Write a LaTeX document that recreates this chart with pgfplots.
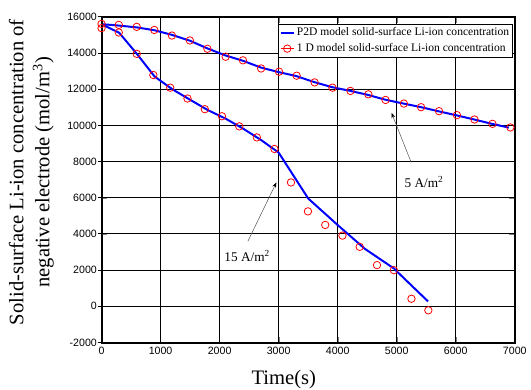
\documentclass[border=0pt]{standalone}
\usepackage{fontspec}
\setmainfont{Liberation Serif}
\newfontfamily\arialfont{Liberation Sans}
\usepackage{pgfplots}
\pgfplotsset{compat=1.18}
\usetikzlibrary{arrows.meta,calc}
\newcommand{\tkl}[1]{{\arialfont\fontsize{8}{9}\selectfont #1}}

\pgfplotstableread{
x y
0 15615
292 15560
596 15450
894 15280
1192 14970
1496 14700
1793 14240
2102 13800
2395 13600
2703 13150
3007 12970
3305 12750
3609 12380
3912 12090
4216 11910
4519 11720
4811 11410
5121 11210
5413 11010
5717 10790
6020 10570
6318 10330
6622 10090
6926 9890
}\circA

\pgfplotstableread{
x y
0 15380
292 15140
596 13960
877 12790
1163 12090
1456 11490
1749 10900
2040 10510
2333 9950
2631 9340
2929 8700
3209 6850
3496 5250
3789 4500
4081 3910
4373 3290
4666 2280
4952 2000
5250 420
5536 -220
}\circB

\pgfplotstableread{
x y
0 15600
300 15520
600 15420
900 15260
1200 15000
1500 14680
1800 14250
2100 13870
2400 13570
2700 13200
3000 12950
3300 12730
3600 12400
3900 12120
4200 11920
4500 11700
4800 11430
5100 11220
5400 11020
5700 10790
6000 10570
6300 10340
6600 10100
6900 9880
}\lineA

\pgfplotstableread{
x y
0 15600
300 15120
600 13950
900 12700
1200 12000
1500 11420
1800 10850
2100 10380
2400 9820
2700 9200
3000 8500
3500 5965
4013 4457
4463 3174
4950 2100
5250 1153
5531 272
}\lineB

\begin{document}
\setbox0\hbox{\tkl{0123456789-}}%
\begin{tikzpicture}
\begin{axis}[scale only axis, width=311.25pt, height=245.25pt,
  xmin=0, xmax=7000, ymin=-2000, ymax=16000,
  xtick={0,1000,...,7000}, ytick={-2000,0,...,16000},
  xticklabels={\tkl{0},\tkl{1000},\tkl{2000},\tkl{3000},\tkl{4000},\tkl{5000},\tkl{6000},\tkl{7000}},
  yticklabels={\tkl{-2000},\tkl{0},\tkl{2000},\tkl{4000},\tkl{6000},\tkl{8000},\tkl{10000},\tkl{12000},\tkl{14000},\tkl{16000}},
  grid=major,
  grid style={black, line width=0.75pt},
  scaled ticks=false,
  clip=false,
  xlabel={Time(s)},
  xlabel style={font=\fontsize{15.5}{18}\selectfont, inner sep=0pt, at={(axis description cs:0.441,-0.113)}, anchor=center},
  ylabel={Solid-surface Li-ion concentration of\\negative electrode (mol/m\textsuperscript{3})},
  ylabel style={font=\fontsize{15.5}{19.5}\selectfont, inner sep=0pt, align=center, at={(axis description cs:-0.170,0.523)}, anchor=center},
  legend cell align=left,
  legend style={at={(1,1)}, anchor=north east, xshift=-1.5pt, yshift=-5.25pt, draw=black,
    font=\fontsize{8.7}{10}\selectfont, inner sep=1pt, row sep=1.5pt, nodes={inner sep=1.5pt},
    /tikz/every even column/.append style={column sep=2.5pt}},
]
\pgfplotsinvokeforeach{1000,2000,3000,4000,5000,6000}{
  \draw[black, line width=0.75pt] (axis cs:#1,-2000) -- (axis cs:#1,16000);
}
\pgfplotsinvokeforeach{0,2000,4000,6000,8000,10000,12000,14000}{
  \draw[black, line width=0.75pt] (axis cs:0,#1) -- (axis cs:7000,#1);
}
\pgfplotsinvokeforeach{-2000,0,2000,4000,6000,8000,10000,12000,14000,16000}{
  \draw[black, line width=0.75pt] (axis cs:0,#1) -- ++(-3pt,0pt);
}
\addplot[blue, line width=1.5pt, no marks,
  legend image code/.code={\path (0cm,0cm) -- (0.35cm,0cm); \draw[blue, line width=1.5pt] (0.1cm,0cm) -- (0.25cm,0cm);}] table {\lineA};
\addlegendentry{P2D model solid-surface Li-ion concentration}
\addplot[red, only marks, mark=o, mark size=2.8pt, mark options={line width=0.6pt},
  legend image code/.code={\path (0cm,0cm) -- (0.35cm,0cm); \draw[red, line width=0.6pt] (0.175cm,0cm) circle (2.8pt);}] table {\circA};
\addlegendentry{1 D model solid-surface Li-ion concentration}
\addplot[blue, line width=1.5pt, no marks, forget plot] table {\lineB};
\addplot[red, only marks, mark=o, mark size=2.8pt, mark options={line width=0.6pt}, forget plot] table {\circB};

\draw[black, line width=1.5pt] (rel axis cs:0,0) rectangle (rel axis cs:1,1);
\draw[gray!70!black, line width=0.4pt, -{Stealth[black,length=4pt,width=3pt]}] (axis cs:5245,7960) -- (axis cs:4912,10700);
\node[font=\fontsize{10}{12}\selectfont] at (axis cs:5464,6860) {5 A/m\textsuperscript{2}};
\draw[gray!70!black, line width=0.4pt, -{Stealth[black,length=4pt,width=3pt]}] (axis cs:2479,3600) -- (axis cs:2962,6850);
\node[font=\fontsize{10}{12}\selectfont] at (axis cs:2467,2780) {15 A/m\textsuperscript{2}};
\path (axis description cs:-0.24578,-0.14373) rectangle (axis description cs:1.03373,1.05199);
\end{axis}
\end{tikzpicture}
\end{document}
